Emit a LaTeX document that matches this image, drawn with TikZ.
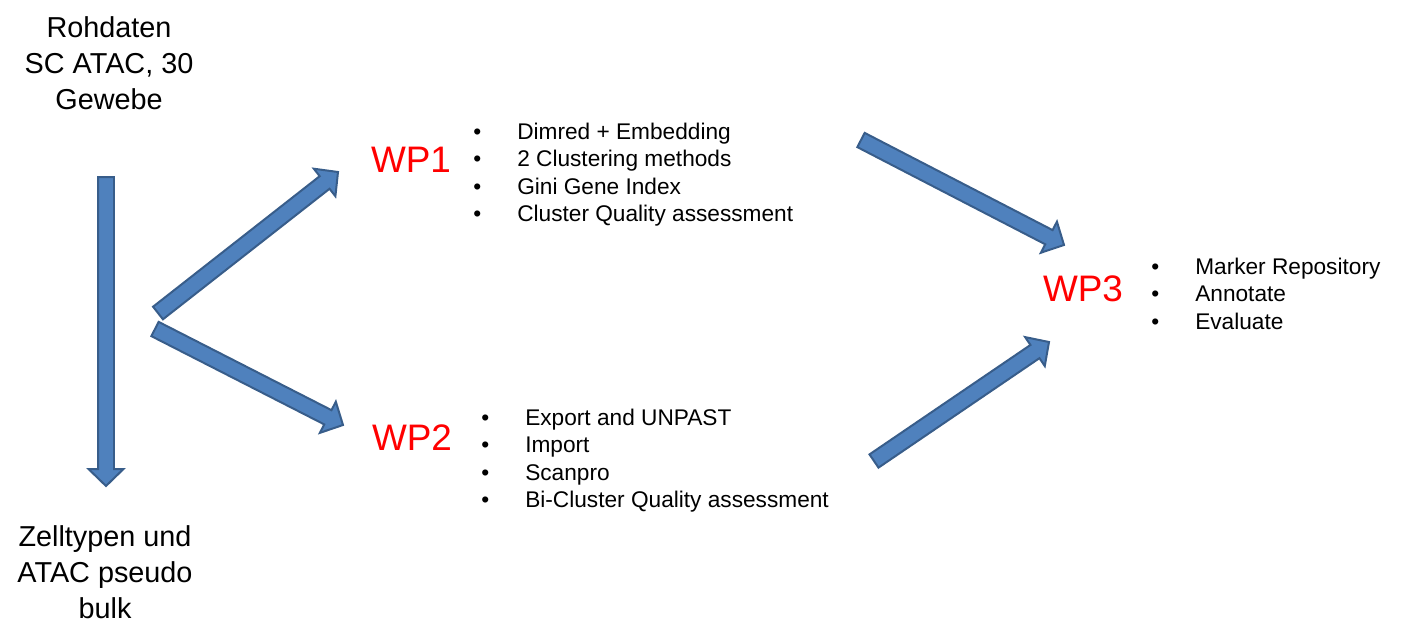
\documentclass[tikz,border=0pt]{standalone}
\usepackage{fontspec}
\setmainfont{Liberation Sans}
\usepackage{xcolor}
\usetikzlibrary{calc,positioning}

\definecolor{arrowfill}{HTML}{4F81BD}
\definecolor{arrowedge}{HTML}{385D8A}
\definecolor{wpred}{HTML}{FF0000}

% block arrow from tail (#1) to tip (#2)
\newcommand{\blockarrow}[2]{%
  \coordinate (head) at ($(#2)!0.34cm!(#1)$);
  \filldraw[blockarr] ($(#1)!0.16cm!90:(#2)$) -- ($(head)!0.16cm!90:(#2)$)
    -- ($(head)!0.35cm!90:(#2)$) -- (#2) -- ($(head)!0.35cm!-90:(#2)$)
    -- ($(head)!0.16cm!-90:(#2)$) -- ($(#1)!0.16cm!-90:(#2)$) -- cycle;
}

\newcommand{\tasks}[1]{\begin{tabular}{@{}l@{\hspace{0.72cm}}l@{}}#1\end{tabular}}

\begin{document}
\begin{tikzpicture}[
    x=0.02cm, y=-0.02cm,
    datatext/.style={
        align=center,
        inner sep=0pt,
        font=\fontsize{16.4}{20.4}\selectfont
    },
    wplabel/.style={
        inner sep=0pt,
        text=wpred,
        font=\fontsize{21}{25}\selectfont
    },
    tasklist/.style={
        anchor=west,
        inner sep=0pt,
        font=\fontsize{12.9}{15.6}\selectfont
    },
    blockarr/.style={
        fill=arrowfill,
        draw=arrowedge,
        line width=0.04cm,
        line join=miter
    }
]
\useasboundingbox (0,0) rectangle (1407,633);

% --- Data ---
\node[datatext] (raw) at (109,63) {Rohdaten\\SC ATAC, 30\\Gewebe};
\node[datatext] (bulk) at (105,572) {Zelltypen und\\ATAC pseudo\\bulk};

% --- Work packages ---
\node[wplabel] (wp1) at (411,160) {WP1};
\node[wplabel] (wp2) at (412,438) {WP2};
\node[wplabel] (wp3) at (1083,289) {WP3};

\node[tasklist] (wp1tasks) at (473,175) {\tasks{
    \textbullet & Dimred + Embedding\\
    \textbullet & 2 Clustering methods\\
    \textbullet & Gini Gene Index\\
    \textbullet & Cluster Quality assessment}};
\node[tasklist] (wp2tasks) at (481,461) {\tasks{
    \textbullet & Export and UNPAST\\
    \textbullet & Import\\
    \textbullet & Scanpro\\
    \textbullet & Bi-Cluster Quality assessment}};
\node[tasklist] (wp3tasks) at (1151,296.5) {\tasks{
    \textbullet & Marker Repository\\
    \textbullet & Annotate\\
    \textbullet & Evaluate}};

% --- Arrow ends ---
\coordinate (down0) at (106,177);
\coordinate (down1) at (106,486);
\coordinate (up0) at (158,313);
\coordinate (up1) at (338,172);
\coordinate (low0) at (155,329);
\coordinate (low1) at (343,425);
\coordinate (merge0) at (861,140);
\coordinate (merge1) at (1064,245);
\coordinate (join0) at (874,461);
\coordinate (join1) at (1049,342);

% --- Connections ---
\blockarrow{down0}{down1}
\blockarrow{up0}{up1}
\blockarrow{low0}{low1}
\blockarrow{merge0}{merge1}
\blockarrow{join0}{join1}

\end{tikzpicture}
\end{document}
